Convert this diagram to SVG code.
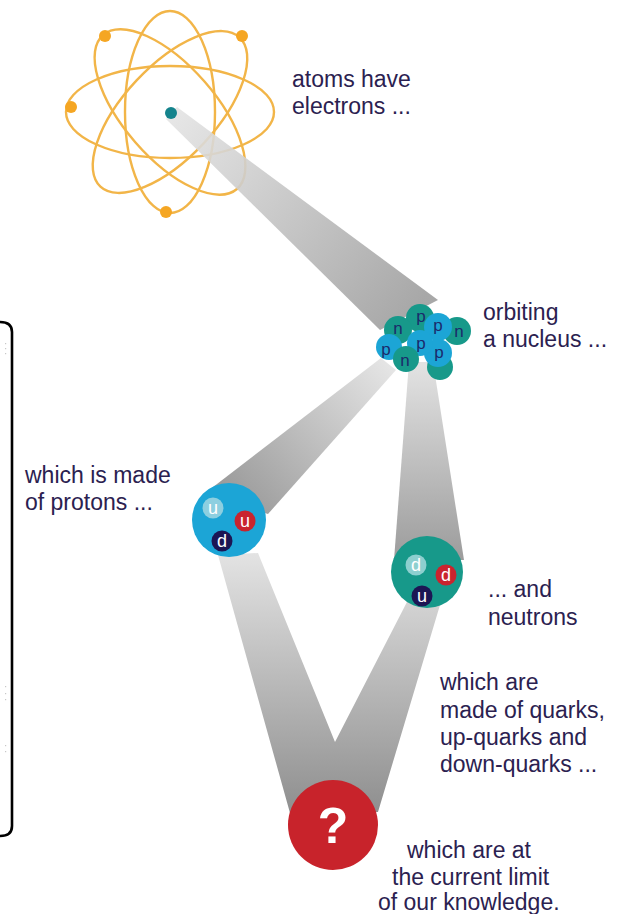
<svg xmlns="http://www.w3.org/2000/svg" width="623" height="914" viewBox="0 0 623 914">
  <style>
    .label { font-family: "Liberation Sans", Arial, sans-serif; font-size: 23px; fill: #2b2150; }
    .orbit { fill: none; stroke: #F2B548; stroke-width: 2.4; }
    .electron { fill: #F5A623; }
    .nuc-letter { font-family: "Liberation Sans", Arial, sans-serif; font-size: 17px; fill: #1b2a6b; text-anchor: middle; }
    .quark-letter { font-family: "Liberation Sans", Arial, sans-serif; font-size: 18px; fill: #ffffff; text-anchor: middle; }
    .teal { fill: #17998A; }
    .blue { fill: #1CA5D6; }
  </style>
  <defs>
    <linearGradient id="beamAtom" gradientUnits="userSpaceOnUse" x1="172" y1="113" x2="410" y2="315">
      <stop offset="0" stop-color="#e4e4e4"/>
      <stop offset="1" stop-color="#9e9e9e"/>
    </linearGradient>
    <linearGradient id="beamProton" gradientUnits="userSpaceOnUse" x1="390" y1="362" x2="235" y2="505">
      <stop offset="0" stop-color="#e6e6e6"/>
      <stop offset="1" stop-color="#9a9a9a"/>
    </linearGradient>
    <linearGradient id="beamNeutron" gradientUnits="userSpaceOnUse" x1="0" y1="365" x2="0" y2="560">
      <stop offset="0" stop-color="#e2e2e2"/>
      <stop offset="1" stop-color="#9c9c9c"/>
    </linearGradient>
    <linearGradient id="beamQuarks" gradientUnits="userSpaceOnUse" x1="0" y1="550" x2="0" y2="815">
      <stop offset="0" stop-color="#e4e4e4"/>
      <stop offset="1" stop-color="#8e8e8e"/>
    </linearGradient>
  </defs>

  <rect width="623" height="914" fill="#ffffff"/>

  <!-- side bracket -->
  <g id="bracket">
    <path d="M0,322 Q12,322 12,332 L12,826 Q12,836 0,836" fill="none" stroke="#000" stroke-width="2.6"/>
    <g fill="#c8c8c8">
      <rect x="5" y="343" width="1.2" height="1.2"/><rect x="5" y="348" width="1.2" height="1.2"/><rect x="5" y="353" width="1.2" height="1.2"/>
      <rect x="5" y="686" width="1.2" height="1.2"/><rect x="5" y="693" width="1.2" height="1.2"/><rect x="5" y="699" width="1.2" height="1.2"/>
      <rect x="5" y="745" width="1.2" height="1.2"/><rect x="5" y="751" width="1.2" height="1.2"/>
    </g>
  </g>

  <!-- atom with orbits -->
  <g id="atom">
    <ellipse class="orbit" cx="170" cy="112" rx="104" ry="46"/>
    <ellipse class="orbit" cx="170" cy="112" rx="45" ry="101"/>
    <ellipse class="orbit" cx="170" cy="112" rx="102" ry="46" transform="rotate(-47 170 112)"/>
    <ellipse class="orbit" cx="170" cy="112" rx="102" ry="46" transform="rotate(49 170 112)"/>
    <circle class="electron" cx="105" cy="36" r="6"/>
    <circle class="electron" cx="242" cy="36" r="6"/>
    <circle class="electron" cx="71" cy="107" r="6"/>
    <circle class="electron" cx="166" cy="212" r="6"/>
    <text class="label" x="292" y="87">atoms have</text>
    <text class="label" x="292" y="114">electrons ...</text>
  </g>

  <!-- beams linking each level to the next -->
  <g id="connectors">
    <polygon points="166,119 177,107 438,300 380,330" fill="url(#beamAtom)" opacity="0.9"/>
    <polygon points="381,358 396,370 268,514 204,494" fill="url(#beamProton)"/>
    <polygon points="409,362 433,362 464,560 394,560" fill="url(#beamNeutron)"/>
    <polygon points="218,555 258,553 335,742 408,600 440,605 378,812 290,813" fill="url(#beamQuarks)"/>
  </g>

  <!-- atom core, drawn over the beam -->
  <circle id="atom-core" cx="171" cy="113" r="6" fill="#14838C"/>

  <!-- nucleus cluster -->
  <g id="nucleus">
    <circle class="teal" cx="440" cy="367" r="13"/>
    <circle class="teal" cx="457" cy="331" r="14"/><text class="nuc-letter" x="459" y="337">n</text>
    <circle class="teal" cx="420" cy="318" r="14"/><text class="nuc-letter" x="421" y="322">p</text>
    <circle class="blue" cx="438" cy="327" r="14"/><text class="nuc-letter" x="438" y="331">p</text>
    <circle class="teal" cx="398" cy="330" r="14"/><text class="nuc-letter" x="398" y="334">n</text>
    <circle class="blue" cx="389" cy="347" r="13"/><text class="nuc-letter" x="386" y="355">p</text>
    <circle class="blue" cx="438" cy="353" r="14"/><text class="nuc-letter" x="439" y="358">p</text>
    <circle class="blue" cx="420" cy="343" r="13"/><text class="nuc-letter" x="421" y="349">p</text>
    <circle class="teal" cx="406" cy="359" r="13"/><text class="nuc-letter" x="405" y="366">n</text>
    <text class="label" x="483" y="320">orbiting</text>
    <text class="label" x="483" y="347">a nucleus ...</text>
  </g>

  <!-- proton -->
  <g id="proton">
    <circle cx="229" cy="520" r="37" fill="#1CA5D6"/>
    <circle cx="213" cy="508" r="10.5" fill="#8DCFE0"/><text class="quark-letter" x="213" y="514">u</text>
    <circle cx="245" cy="521" r="10.5" fill="#C9242E"/><text class="quark-letter" x="245" y="527">u</text>
    <circle cx="222" cy="541" r="10.5" fill="#1c1654"/><text class="quark-letter" x="222" y="547">d</text>
    <text class="label" x="25" y="483">which is made</text>
    <text class="label" x="25" y="510">of protons ...</text>
  </g>

  <!-- neutron -->
  <g id="neutron">
    <circle cx="427" cy="572" r="36" fill="#17998A"/>
    <circle cx="416" cy="565" r="10.5" fill="#8DCFCF"/><text class="quark-letter" x="416" y="571">d</text>
    <circle cx="446" cy="575" r="10.5" fill="#C9242E"/><text class="quark-letter" x="446" y="581">d</text>
    <circle cx="422" cy="596" r="10.5" fill="#1c1654"/><text class="quark-letter" x="422" y="602">u</text>
    <text class="label" x="488" y="597">... and</text>
    <text class="label" x="488" y="625">neutrons</text>
  </g>

  <!-- quarks label -->
  <g id="quarks-label">
    <text class="label" x="440" y="690">which are</text>
    <text class="label" x="440" y="718">made of quarks,</text>
    <text class="label" x="440" y="745">up-quarks and</text>
    <text class="label" x="440" y="772">down-quarks ...</text>
  </g>

  <!-- unknown level -->
  <g id="unknown">
    <circle cx="333" cy="825" r="45" fill="#C8232B"/>
    <text x="333" y="843" font-family="Liberation Sans, Arial, sans-serif" font-size="50" font-weight="bold" fill="#ffffff" text-anchor="middle">?</text>
    <text class="label" x="407" y="858">which are at</text>
    <text class="label" x="392" y="885">the current limit</text>
    <text class="label" x="378" y="910">of our knowledge.</text>
  </g>
</svg>
